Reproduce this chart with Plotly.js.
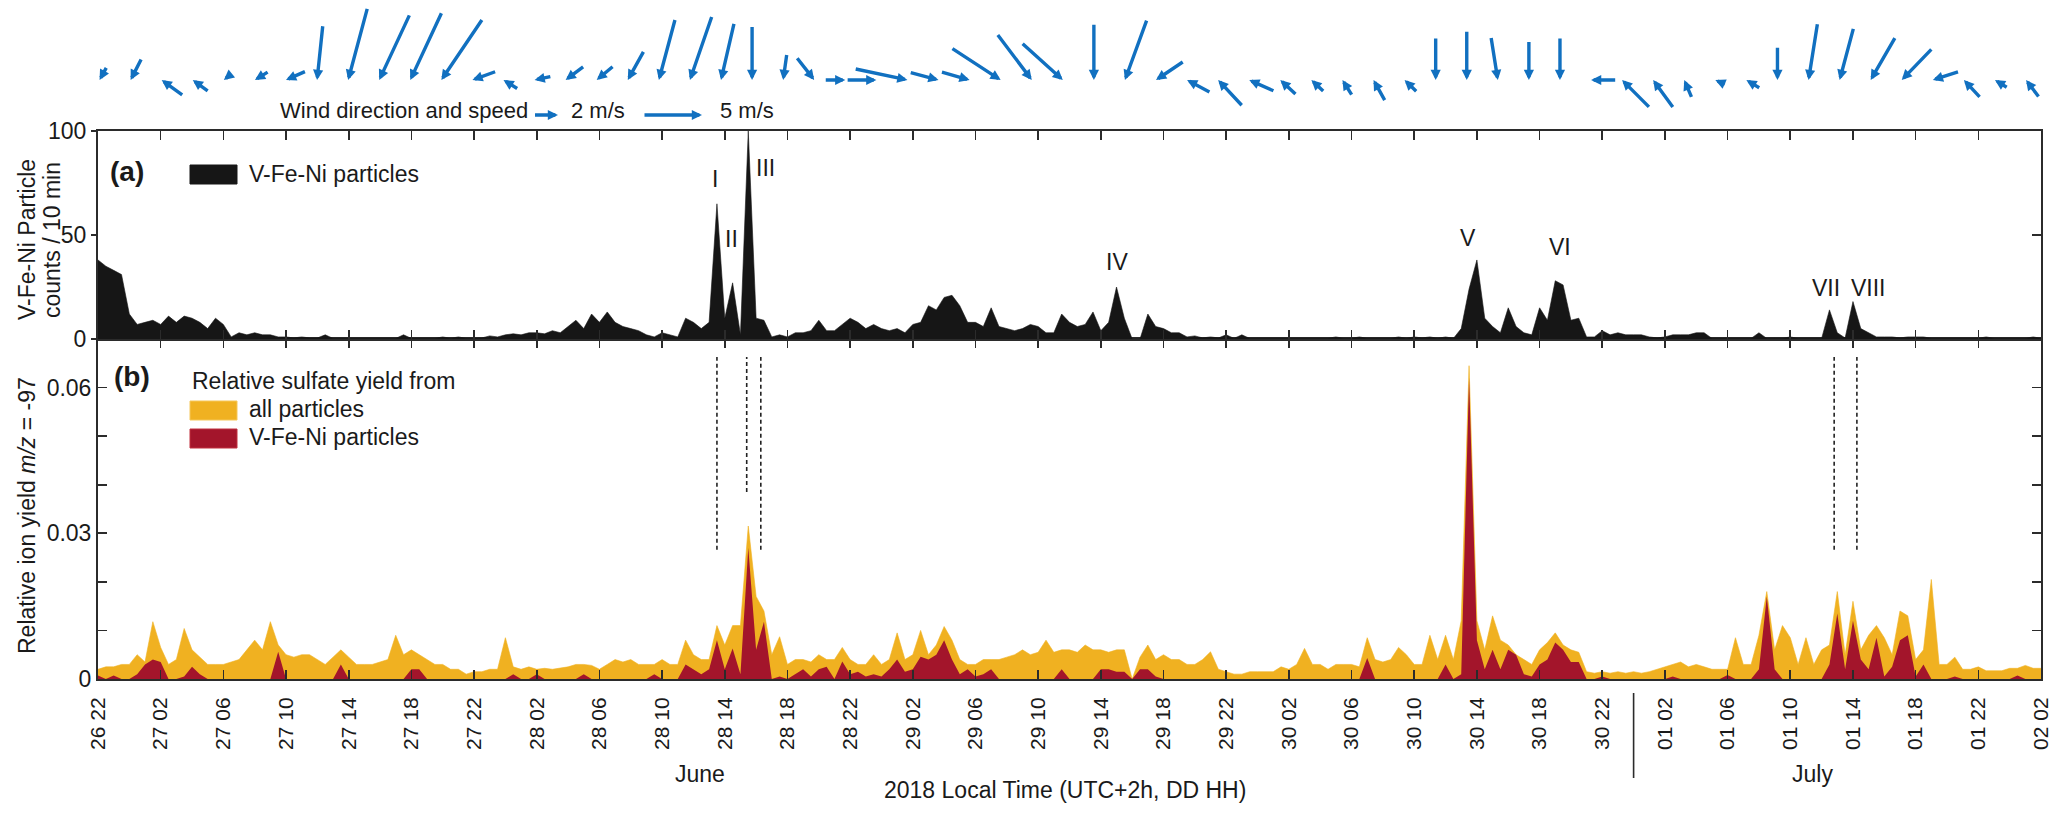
<!DOCTYPE html>
<html><head><meta charset="utf-8">
<script src="https://cdn.plot.ly/plotly-3.0.1.min.js"></script>
<style>html,body{margin:0;padding:0;background:#fff}#chart{width:2067px;height:817px}</style>
</head><body><div id="chart"></div>
<script>
// ---------------- DATA ----------------
// sampling grid: every 30 min starting 26 June 22:00 local time (hour 0)
const sampleStepHours = 0.5;

// (a) V-Fe-Ni particle counts per 10 min (one value per 30 min)
const vfeniCounts = [
 38,35,33,31,12,7,8,9,            // 0 h
 7,11,8,11,10,8,5,10,             // 4
 7,1,3,2,3,2,2,1,                 // 8
 1,0.5,1,0.5,0.5,2,0.3,0.3,       // 12
 0.3,0.3,0.3,0.5,0.3,0.3,0.3,2,   // 16
 0.3,0.3,0.3,0.3,1,0.3,1,0.3,     // 20
 0.3,0.5,1.5,1,2,2.5,2,3,         // 24
 3,2.5,4,3,6,9,5,12,              // 28
 8,13,8,6,5,4,2,1,                // 32
 3,2,1,10,8,5,8,65,               // 36
 10,27,2,100,10,9,1,2,            // 40
 1,3,3,4,9,4,4,7,                 // 44
 10,8,5,7,5,4,5,3,                // 48
 7,8,16,14,20,21,16,8,            // 52
 8,6,15,6,5,4,5,7,                // 56
 6,3,3,12,8,6,7,13,               // 60
 4,8,25,10,0,0,12,6,              // 64
 5,3,3,1,1.5,0.5,1,0.5,           // 68
 2,0.3,2,0.3,0.3,0.3,0.3,0.3,     // 72
 0.3,0.3,0.3,0.3,0.3,0.3,1,0.3,   // 76
 0.3,1,0.3,0.3,0.5,0.3,1,0.3,     // 80
 1,0.5,1,0.3,1,0.3,5,24,          // 84
 38,10,6,3,15,6,3,2,              // 88
 15,9,28,26,9,10,1,1,             // 92
 4,2,3,2,2,2,1,0.5,               // 96
 1,2,2,2,3,3,0.3,0.3,             // 100
 0.3,0.3,0.3,0.3,3,0.3,0.3,0.3,   // 104
 1,0.3,0.3,0.3,0.3,14,3,0.5,      // 108
 18,5,3,1,1,1,0.5,1,              // 112
 1,1,0.3,0.3,0.3,0.3,0.3,0.3,     // 116
 0.3,1,0.3,0.3,0.3,0.3,0.3,1,     // 120
 0.3                              // 124
];

// (b) relative sulfate ion yield m/z -97, all particles
const sulfateAll = [
 0.002,0.0025,0.0025,0.003,0.003,0.005,0.0035,0.0118,
 0.0065,0.003,0.004,0.0104,0.006,0.0045,0.003,0.003,
 0.003,0.0035,0.004,0.006,0.008,0.006,0.0118,0.007,
 0.005,0.0045,0.005,0.005,0.004,0.003,0.0045,0.006,
 0.0045,0.003,0.003,0.003,0.0035,0.004,0.009,0.005,
 0.006,0.005,0.004,0.003,0.003,0.002,0.002,0.001,
 0.0015,0.0015,0.002,0.002,0.0085,0.0025,0.002,0.0025,
 0.002,0.0022,0.002,0.0022,0.0025,0.003,0.003,0.0028,
 0.002,0.003,0.004,0.0035,0.004,0.003,0.003,0.003,
 0.004,0.003,0.003,0.008,0.005,0.004,0.004,0.011,
 0.007,0.011,0.011,0.0315,0.017,0.014,0.005,0.0087,
 0.003,0.004,0.004,0.0035,0.005,0.004,0.004,0.0065,
 0.004,0.003,0.003,0.005,0.003,0.004,0.0095,0.004,
 0.005,0.01,0.005,0.007,0.0108,0.008,0.004,0.003,
 0.003,0.004,0.004,0.004,0.0045,0.005,0.006,0.005,
 0.0055,0.008,0.0055,0.006,0.006,0.0055,0.007,0.006,
 0.006,0.0055,0.006,0.006,0,0.0045,0.007,0.004,
 0.005,0.004,0.004,0.003,0.003,0.004,0.0056,0.002,
 0.0015,0.001,0.001,0.0015,0.0015,0.0015,0.0015,0.0025,
 0.002,0.003,0.0063,0.003,0.003,0.002,0.003,0.003,
 0.003,0.0025,0.0085,0.004,0.0035,0.004,0.0065,0.005,
 0.003,0.003,0.009,0.004,0.009,0.004,0.012,0.0645,
 0.012,0.006,0.013,0.008,0.007,0.005,0.004,0.003,
 0.006,0.0075,0.0095,0.007,0.006,0.0055,0.0015,0.0012,
 0.0015,0.0012,0.0015,0.0012,0.0015,0.0012,0.0015,0.002,
 0.0025,0.003,0.0035,0.0025,0.003,0.0025,0.002,0.002,
 0.002,0.0085,0.003,0.003,0.009,0.018,0.006,0.011,
 0.0085,0.003,0.0085,0.003,0.006,0.007,0.018,0.005,
 0.016,0.006,0.009,0.011,0.0085,0.005,0.014,0.013,
 0.004,0.006,0.0205,0.003,0.003,0.0045,0.002,0.002,
 0.0025,0.0017,0.0017,0.0017,0.0022,0.0022,0.0028,0.0022,
 0.0022
];

// (b) relative sulfate ion yield m/z -97, V-Fe-Ni particles
const sulfateVFeNi = [
 0.0007,0,0.0007,0,0,0.001,0.003,0.004,
 0.0035,0,0,0.0005,0.0025,0.001,0,0,
 0,0,0,0,0,0,0,0.0056,
 0,0,0,0,0,0,0,0.003,
 0,0,0,0,0,0,0,0,
 0.002,0.002,0,0,0,0,0,0,
 0,0,0,0,0,0.001,0,0,
 0.001,0,0,0,0,0,0.001,0,
 0,0,0,0,0,0,0,0.001,
 0,0,0,0.003,0.002,0.001,0.002,0.008,
 0.002,0.0063,0.001,0.027,0.006,0.0118,0,0.0005,
 0,0.001,0.002,0.0005,0.002,0.0025,0,0.0036,
 0.001,0.0015,0.0005,0.001,0.0005,0.002,0.004,0.0015,
 0.002,0.0046,0.004,0.005,0.008,0.004,0.001,0.002,
 0.0005,0.001,0.002,0,0,0,0,0,
 0,0,0,0.002,0,0,0,0,
 0.002,0.002,0.0015,0.0015,0,0.002,0.002,0.0005,
 0,0,0,0,0,0,0,0,
 0,0,0,0,0,0,0,0,
 0,0,0,0,0,0,0,0,
 0,0,0.0043,0,0,0,0,0,
 0,0,0,0,0.003,0,0.001,0.062,
 0.008,0.002,0.006,0.002,0.006,0.005,0.001,0.0005,
 0.003,0.004,0.0075,0.006,0.0035,0.0035,0,0,
 0.0005,0,0,0,0,0,0,0,
 0,0.0005,0,0,0,0,0,0,
 0.0008,0,0,0,0.002,0.017,0.002,0,
 0,0,0,0,0,0.003,0.0135,0.002,
 0.012,0.004,0.002,0.0085,0.0005,0.0025,0.008,0.009,
 0.0005,0.003,0,0,0,0.0005,0,0,
 0,0,0,0,0,0.0007,0,0,
 0
];

// x tick labels (DD HH), one every 4 h
const tickLabels = ['26 22','27 02','27 06','27 10','27 14','27 18','27 22','28 02','28 06','28 10','28 14','28 18','28 22',
 '29 02','29 06','29 10','29 14','29 18','29 22','30 02','30 06','30 10','30 14','30 18','30 22',
 '01 02','01 06','01 10','01 14','01 18','01 22','02 02'];
const tickStepHours = 4;

// wind (every ~2 h): speed m/s and meteorological direction (deg, where wind comes from)
const windStartHour = 0.1, windStepHours = 1.983;
const windSpeed = [1.2,2.0,2.2,1.6,0.6,1.3,1.8,4.7,6.4,6.2,6.4,6.3,2.1,1.4,1.4,1.9,1.8,2.8,5.4,5.8,5.0,4.6,2.2,2.4,1.7,2.5,4.6,2.5,2.5,5.0,4.9,4.7,4.8,5.5,2.8,2.2,3.0,2.3,1.8,1.4,1.5,2.0,1.4,3.6,4.2,3.7,3.3,3.6,2.1,3.3,2.9,1.6,0.9,1.3,2.8,4.9,4.6,4.2,3.7,2.3,2.0,1.2,1.8];
const windFromDeg = [29,27,126,126,51,58,66,6,15,25,25,34,70,122,78,53,50,29,15,19,13,0,8,322,270,270,282,285,286,303,323,312,0,20,56,118,137,114,133,133,148,151,134,0,0,351,0,0,90,135,144,157,114,121,0,9,15,30,44,72,137,122,143];
const legendSpeeds = [2, 5];
const legendSpeedLabels = ['2 m/s', '5 m/s'];

// event labels in panel (a)
const peakLabels = ['I','II','III','IV','V','VI','VII','VIII'];
const peakLabelHour = [39.4, 40.4, 42.6, 65.0, 87.4, 93.3, 110.3, 113.0];
const peakLabelCount = [77, 48, 82, 37, 48.5, 44, 24.5, 24.5];

// dashed event lines in panel (b)
const eventLineHour = [39.5, 41.4, 42.3, 110.8, 112.25];
const eventLineBottom = [0.0266, 0.0385, 0.0266, 0.0266, 0.0266];
const eventLineTop = 0.0663;
const monthBoundaryHour = 98; // 1 July 00:00
const monthLabels = ['June', 'July'];
const monthLabelHour = [38.4, 109.4];

// ---------------- GEOMETRY / STYLE ----------------
const FONT = 'Liberation Sans, Arial, Helvetica, sans-serif';
const TXT = '#1a1a1a', AX = '#2b2b2b';
const BLUE = '#1170c0', YEL = '#F0B121', RED = '#A3152B', BLK = '#161616';
const W = 2067, H = 817, L = 98, R = 2041, T = 131, B = 679, SPLIT = 339;
const PX_PER_MS = 11.5;
const px2x = fx => (fx - L) / (R - L);
const px2y = fy => (B - fy) / (B - T);
const split = px2y(SPLIT);

const hours = vfeniCounts.map((_, i) => i * sampleStepHours);
const tickHours = tickLabels.map((_, i) => i * tickStepHours);

const traces = [
 {x: hours, y: sulfateAll, xaxis: 'x', yaxis: 'y', type: 'scatter', mode: 'lines', fill: 'tozeroy',
  fillcolor: YEL, line: {color: YEL, width: 0.6}, hoverinfo: 'skip'},
 {x: hours, y: sulfateVFeNi, xaxis: 'x', yaxis: 'y', type: 'scatter', mode: 'lines', fill: 'tozeroy',
  fillcolor: RED, line: {color: RED, width: 0}, hoverinfo: 'skip'},
 {x: hours, y: vfeniCounts, xaxis: 'x2', yaxis: 'y2', type: 'scatter', mode: 'lines', fill: 'tozeroy',
  fillcolor: BLK, line: {color: BLK, width: 0.6}, hoverinfo: 'skip'},
 {x: [0], y: [0], xaxis: 'x2', yaxis: 'y3', type: 'scatter', mode: 'markers', marker: {opacity: 0}, hoverinfo: 'skip'}
];

const axCommon = {showline: true, linecolor: AX, linewidth: 2, showgrid: false, zeroline: false,
  tickcolor: AX, tickwidth: 1.6, fixedrange: true};

const ann = [];
const shapes = [];
const arrowStyle = {text: '', showarrow: true, arrowhead: 2, arrowsize: 0.6, arrowwidth: 3.4, arrowcolor: BLUE,
  standoff: 0, startstandoff: 0, borderpad: 0, borderwidth: 0, font: {size: 1}, axref: 'pixel', ayref: 'pixel'};
// wind arrows (head at the baseline, tail pointing upwind)
windSpeed.forEach((s, i) => {
  const len = s * PX_PER_MS, r = windFromDeg[i] * Math.PI / 180;
  ann.push(Object.assign({xref: 'x2', yref: 'paper', x: windStartHour + i * windStepHours, y: px2y(80),
    ax: len * Math.sin(r), ay: -len * Math.cos(r)}, arrowStyle));
});
// wind legend
ann.push({xref: 'paper', yref: 'paper', x: px2x(278), y: px2y(111), xanchor: 'left', yanchor: 'middle',
  text: 'Wind direction and speed', showarrow: false, font: {size: 22}});
const legHead = [558, 702], legText = [569, 718];
legendSpeeds.forEach((s, i) => {
  ann.push(Object.assign({xref: 'paper', yref: 'paper', x: px2x(legHead[i]), y: px2y(115), ax: -s * PX_PER_MS, ay: 0}, arrowStyle));
  ann.push({xref: 'paper', yref: 'paper', x: px2x(legText[i]), y: px2y(111), xanchor: 'left', yanchor: 'middle',
    text: legendSpeedLabels[i], showarrow: false, font: {size: 22}});
});
// panel labels & legends
ann.push({xref: 'paper', yref: 'paper', x: px2x(108), y: px2y(171), xanchor: 'left', yanchor: 'middle',
  text: '<b>(a)</b>', showarrow: false, font: {size: 28}});
ann.push({xref: 'paper', yref: 'paper', x: px2x(247), y: px2y(174), xanchor: 'left', yanchor: 'middle',
  text: 'V-Fe-Ni particles', showarrow: false, font: {size: 23}});
ann.push({xref: 'paper', yref: 'paper', x: px2x(112), y: px2y(376), xanchor: 'left', yanchor: 'middle',
  text: '<b>(b)</b>', showarrow: false, font: {size: 28}});
ann.push({xref: 'paper', yref: 'paper', x: px2x(190), y: px2y(381), xanchor: 'left', yanchor: 'middle',
  text: 'Relative sulfate yield from', showarrow: false, font: {size: 23}});
ann.push({xref: 'paper', yref: 'paper', x: px2x(247), y: px2y(409), xanchor: 'left', yanchor: 'middle',
  text: 'all particles', showarrow: false, font: {size: 23}});
ann.push({xref: 'paper', yref: 'paper', x: px2x(247), y: px2y(437), xanchor: 'left', yanchor: 'middle',
  text: 'V-Fe-Ni particles', showarrow: false, font: {size: 23}});
[[165, 184, BLK, BLK], [401, 420, YEL, '#f5c75a'], [429, 448, RED, '#c0303e']].forEach(b => {
  shapes.push({type: 'rect', xref: 'paper', yref: 'paper', x0: px2x(190), x1: px2x(237), y0: px2y(b[1]), y1: px2y(b[0]),
    fillcolor: b[2], line: {color: b[3], width: 1}});
});
// y-axis titles
ann.push({xref: 'paper', yref: 'paper', x: px2x(27), y: px2y(240), xanchor: 'center', yanchor: 'middle', textangle: -90,
  text: 'V-Fe-Ni Particle', showarrow: false, font: {size: 23}});
ann.push({xref: 'paper', yref: 'paper', x: px2x(52), y: px2y(240), xanchor: 'center', yanchor: 'middle', textangle: -90,
  text: 'counts / 10 min', showarrow: false, font: {size: 23}});
ann.push({xref: 'paper', yref: 'paper', x: px2x(27), y: px2y(516), xanchor: 'center', yanchor: 'middle', textangle: -90,
  text: 'Relative ion yield <i>m/z</i> = -97', showarrow: false, font: {size: 23}});
// roman numerals
peakLabels.forEach((t, i) => ann.push({xref: 'x2', yref: 'y2', x: peakLabelHour[i], y: peakLabelCount[i],
  xanchor: 'center', yanchor: 'middle', text: t, showarrow: false, font: {size: 23}}));
// months & x title
monthLabels.forEach((t, i) => ann.push({xref: 'x', yref: 'paper', x: monthLabelHour[i], y: px2y(774),
  xanchor: 'center', yanchor: 'middle', text: t, showarrow: false, font: {size: 23}}));
ann.push({xref: 'paper', yref: 'paper', x: px2x(1065), y: px2y(790), xanchor: 'center', yanchor: 'middle',
  text: '2018 Local Time (UTC+2h, DD HH)', showarrow: false, font: {size: 23}});
// dashed lines
eventLineHour.forEach((h, i) => shapes.push({type: 'line', xref: 'x', yref: 'y', x0: h, x1: h,
  y0: eventLineBottom[i], y1: eventLineTop, line: {color: '#222', width: 1.6, dash: '4px,3px'}}));
// month boundary
shapes.push({type: 'line', xref: 'x', yref: 'paper', x0: monthBoundaryHour, x1: monthBoundaryHour,
  y0: px2y(693), y1: px2y(778), line: {color: AX, width: 1.6}});

const layout = {
  width: W, height: H, margin: {l: L, r: W - R, t: T, b: H - B, pad: 0},
  paper_bgcolor: '#fff', plot_bgcolor: 'rgba(0,0,0,0)', showlegend: false,
  font: {family: FONT, size: 23, color: TXT},
  xaxis: Object.assign({}, axCommon, {domain: [0, 1], anchor: 'y', range: [0, 124], tickmode: 'array',
    tickvals: tickHours, ticktext: tickLabels, tickangle: -90, ticks: 'inside', ticklen: 9, mirror: 'ticks',
    tickfont: {size: 21, color: TXT}, ticklabelstandoff: 8}),
  xaxis2: Object.assign({}, axCommon, {anchor: 'y2', matches: 'x', range: [0, 124], tickmode: 'array',
    tickvals: tickHours, ticks: 'inside', ticklen: 9, mirror: 'ticks', showticklabels: false}),
  yaxis: Object.assign({}, axCommon, {domain: [0, split], anchor: 'x', range: [0, 0.07], tickmode: 'array',
    tickvals: [0, 0.01, 0.02, 0.03, 0.04, 0.05, 0.06], ticktext: ['0', '', '', '0.03', '', '', '0.06'],
    ticks: 'inside', ticklen: 9, mirror: 'ticks', tickfont: {size: 23, color: TXT}}),
  yaxis2: Object.assign({}, axCommon, {domain: [split, 1], anchor: 'x2', range: [0, 100], tickmode: 'array',
    tickvals: [0, 50, 100], ticks: 'outside', ticklen: 5, mirror: true, tickfont: {size: 23, color: TXT}}),
  yaxis3: {overlaying: 'y2', side: 'right', anchor: 'x2', range: [0, 100], tickmode: 'array', tickvals: [50],
    ticks: 'inside', ticklen: 9, tickwidth: 1.6, tickcolor: AX, showticklabels: false, showline: false,
    showgrid: false, zeroline: false, fixedrange: true},
  annotations: ann, shapes: shapes
};

Plotly.newPlot('chart', traces, layout, {displayModeBar: false, staticPlot: true});
</script></body></html>
